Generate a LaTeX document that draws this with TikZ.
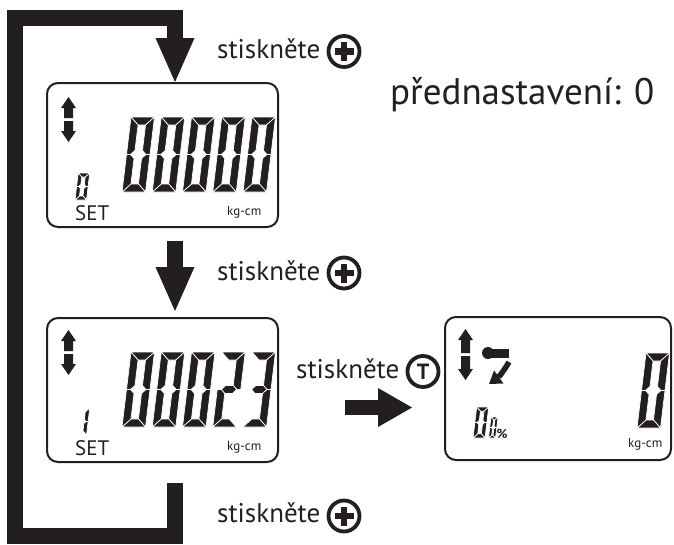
\documentclass[tikz,border=0pt]{standalone}
\usepackage{fontspec}
\setmainfont{PT Sans}
\usetikzlibrary{arrows.meta}
\definecolor{ink}{HTML}{231F20}
\tikzset{
 segst/.style={fill=ink,draw=white,line width=0.7pt},
 panel/.style={draw=ink,line width=2pt,rounded corners=11pt,inner sep=0pt},
 bigarrow/.style={draw=ink,line width=16pt,line join=miter,-{Triangle[length=44pt,width=39pt,line width=0pt]}},
 rarrow/.style={draw=ink,line width=15pt,-{Triangle[length=34pt,width=39pt,line width=0pt]}},
 lbl/.style={anchor=base west,inner sep=0pt,text=ink,font=\fontsize{27}{30}\selectfont},
 btn/.style={circle,draw=ink,line width=3.8pt,minimum size=31pt,inner sep=0pt},
 plusbar/.style={draw=ink,line width=6.5pt},
 settxt/.style={anchor=base west,inner sep=0pt,text=ink,font=\fontsize{21}{22}\selectfont},
 unit/.style={anchor=base west,inner sep=0pt,text=ink,font=\fontsize{13}{14}\selectfont},
}
\newcommand\SegA{\filldraw[segst] (0,\Hd)--(\Wd,\Hd)--(\Wd-\Td,\Hd-\Td)--(\Td,\Hd-\Td)--cycle;}
\newcommand\SegB{\filldraw[segst] (\Wd,\Hd)--(\Wd-\Td,\Hd-\Td)--(\Wd-\Td,\Md+\hd)--(\Wd-\hd,\Md)--(\Wd,\Md)--cycle;}
\newcommand\SegC{\filldraw[segst] (\Wd,0)--(\Wd-\Td,\Td)--(\Wd-\Td,\Md-\hd)--(\Wd-\hd,\Md)--(\Wd,\Md)--cycle;}
\newcommand\SegD{\filldraw[segst] (0,0)--(\Wd,0)--(\Wd-\Td,\Td)--(\Td,\Td)--cycle;}
\newcommand\SegE{\filldraw[segst] (0,0)--(\Td,\Td)--(\Td,\Md-\hd)--(\hd,\Md)--(0,\Md)--cycle;}
\newcommand\SegF{\filldraw[segst] (0,\Hd)--(\Td,\Hd-\Td)--(\Td,\Md+\hd)--(\hd,\Md)--(0,\Md)--cycle;}
\newcommand\SegG{\filldraw[segst] (\hd,\Md)--(\Td,\Md+\hd)--(\Wd-\Td,\Md+\hd)--(\Wd-\hd,\Md)--(\Wd-\Td,\Md-\hd)--(\Td,\Md-\hd)--cycle;}
\newcommand\lcddigit[6]{%
 \begin{scope}[shift={(#1,#2)},x=1pt,y=1pt,xslant=0.12]
 \def\Wd{#3}\def\Hd{#4}\def\Td{#5}%
 \pgfmathsetmacro\Md{#4/2}\pgfmathsetmacro\hd{#5/2}%
 \foreach \sg in {#6}{\csname Seg\sg\endcsname}%
 \end{scope}}
\newcommand\updown[3]{%
 \pgfmathsetmacro\ymid{(#2+#3)/2}%
 \fill[ink] (#1,#2) -- (#1+7.5,#2+11) -- (#1+4.5,#2+11) -- (#1+4.5,\ymid-1.5) -- (#1-4.5,\ymid-1.5) -- (#1-4.5,#2+11) -- (#1-7.5,#2+11) -- cycle;
 \fill[ink] (#1,#3) -- (#1+7.5,#3-11) -- (#1+4.5,#3-11) -- (#1+4.5,\ymid+1.5) -- (#1-4.5,\ymid+1.5) -- (#1-4.5,#3-11) -- (#1-7.5,#3-11) -- cycle;}
\newcommand\plusbtn[3]{%
 \node[btn] (#1) at (#2,#3) {};
 \draw[plusbar] ([xshift=-9.5pt]#1.center) -- ([xshift=9.5pt]#1.center);
 \draw[plusbar] ([yshift=-9.5pt]#1.center) -- ([yshift=9.5pt]#1.center);}
\begin{document}
\begin{tikzpicture}[x=1pt,y=-1pt]
\fill[white] (0,0) rectangle (674,544);
\useasboundingbox (0,0) rectangle (674,544);
% panels
\node[panel,minimum width=231pt,minimum height=144pt] (p1) at (162.5,155) {};
\node[panel,minimum width=231pt,minimum height=144pt] (p2) at (162.5,390) {};
\node[panel,minimum width=226pt,minimum height=143pt] (p3) at (558,388.5) {};
% panel 1 content
\updown{68.5}{97}{142}
\foreach \i in {0,...,4} {\lcddigit{122+\i*30.25}{192}{23.5}{75}{8}{A,B,C,D,E,F}}
\lcddigit{75}{200}{11.5}{27}{4}{A,B,C,D,E,F}
\node[settxt] (set1) at (75,220) {SET};
\node[unit] (u1) at (227,215) {kg-cm};
% panel 2 content
\updown{68.5}{330}{375}
\foreach \i in {0,...,2} {\lcddigit{122+\i*30.25}{427}{23.5}{75}{8}{A,B,C,D,E,F}}
\lcddigit{122+3*30.25}{427}{23.5}{75}{8}{A,B,G,E,D}
\lcddigit{122+4*30.25}{427}{23.5}{75}{8}{A,B,G,C,D}
\lcddigit{75}{435}{11.5}{27}{4}{B,C}
\node[settxt] (set2) at (75,455) {SET};
\node[unit] (u2) at (227,450) {kg-cm};
% panel 3 content
\updown{465.5}{329}{380}
\fill[ink] (488,353) circle[radius=6pt];
\fill[ink] (488,349) rectangle (509,357.5);
\draw[ink,line width=5.5pt,-{Triangle[length=12pt,width=16pt,line width=0pt]}] (509,362) to[bend left=12] (489,384);
\lcddigit{637}{428}{23.5}{75}{8}{A,B,C,D,E,F}
\lcddigit{473}{438}{12}{31}{4.2}{A,B,C,D,E,F}
\lcddigit{488.5}{438}{7}{21}{2.8}{A,B,C,D,E,F}
\node[anchor=base west,inner sep=0pt,text=ink,font=\bfseries\fontsize{13}{13}\selectfont] (pct) at (496.5,438) {\%};
\node[unit] (u3) at (628,447) {kg-cm};
% loop and arrows
\coordinate (loopstart) at (175,483);
\draw[bigarrow] (loopstart) -- (175,536) -- (15,536) -- (15,18) -- (175,18) -- (loopstart |- p1.north);
\coordinate (m1) at (loopstart |- p1.south);
\coordinate (m2) at (loopstart |- p2.north);
\draw[bigarrow] ([yshift=-13pt]m1) -- ([yshift=6pt]m2);
\coordinate (ra) at (345,407.5);
\coordinate (rb) at (412,407.5);
\draw[rarrow] (ra) -- (rb);
% labels
\node[lbl] (l1) at (217,58) {stiskněte};
\plusbtn{b1}{344}{51.5}
\node[lbl] (l2) at (217,280) {stiskněte};
\plusbtn{b2}{344}{273}
\node[lbl] (l3) at (296,378) {stiskněte};
\node[btn,text=ink,font=\bfseries\fontsize{22}{22}\selectfont] (bt) at (423,371.5) {T};
\node[lbl] (l4) at (217,522) {stiskněte};
\plusbtn{b4}{344}{516}
\node[lbl,font=\fontsize{37}{40}\selectfont] (title) at (390,104) {přednastavení: 0};
\end{tikzpicture}
\end{document}
